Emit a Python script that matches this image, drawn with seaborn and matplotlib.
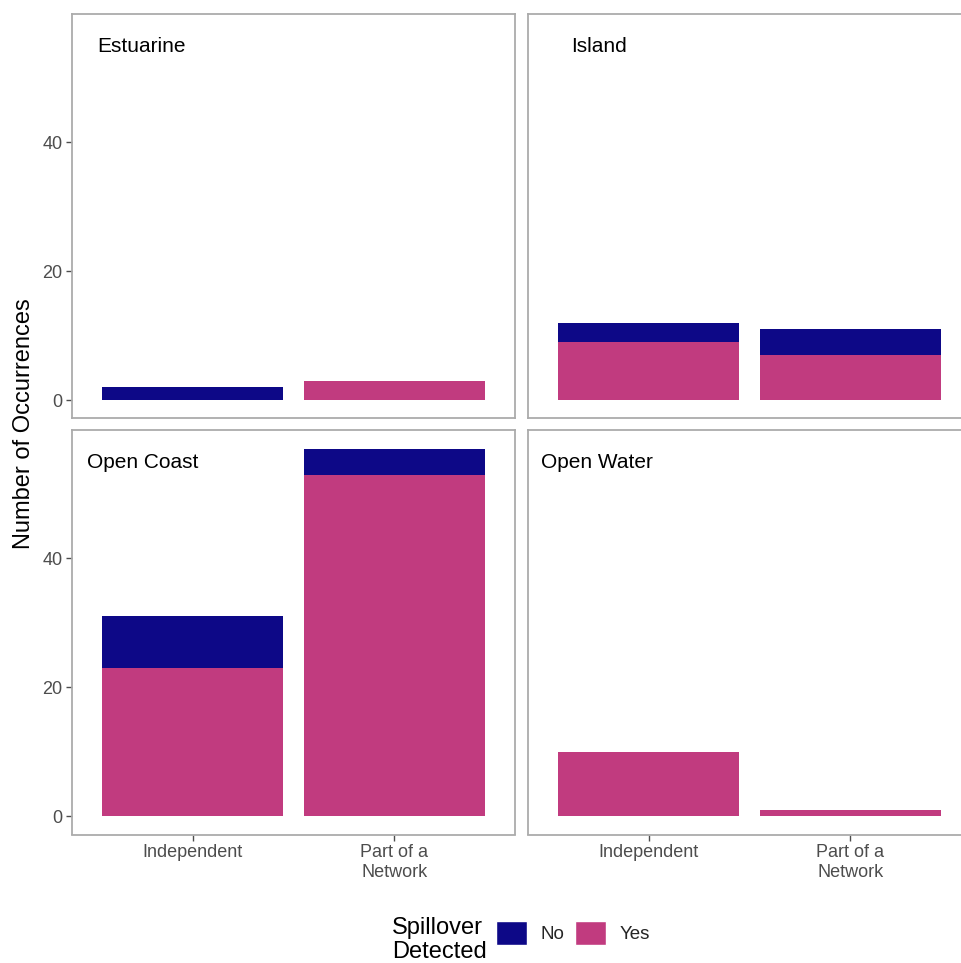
import numpy as np
import pandas as pd
import matplotlib
matplotlib.use("Agg")
import matplotlib.pyplot as plt
import seaborn as sns
from matplotlib.patches import Patch

# data
habitats = ["Estuarine", "Island", "Open Coast", "Open Water"]
network_types = ["Independent", "Part of a\nNetwork"]
yes_counts = [0, 3, 9, 7, 23, 53, 10, 1]
no_counts = [2, 0, 3, 4, 8, 4, 0, 0]
y_ticks = [0, 20, 40]

NAVY = "#0D0887"
PINK = "#C13B7F"
BORDER = "#ABABAB"
TICK_GREY = "#4D4D4D"

sns.set_theme(style="white")
plt.rcParams["font.family"] = ["Liberation Sans", "DejaVu Sans"]

df = pd.DataFrame({
    "habitat": np.repeat(habitats, len(network_types)),
    "network": network_types * len(habitats),
    "yes": yes_counts,
    "no": no_counts,
})
df["total"] = df["yes"] + df["no"]

W, H = 961, 963
fig = plt.figure(figsize=(W / 100, H / 100), dpi=100)

# panel boxes in pixels
panel_w, panel_h = 443, 404
lefts = [72, 528]
tops = [14.5, 430.5]
label_x = {"Estuarine": 0.056, "Island": 0.097, "Open Coast": 0.034, "Open Water": 0.029}

for i, hab in enumerate(habitats):
    row, col = divmod(i, 2)
    l, t = lefts[col], tops[row]
    ax = fig.add_axes([l / W, 1 - (t + panel_h) / H, panel_w / W, panel_h / H])
    sub = df[df["habitat"] == hab]
    # stacked look: total bar (No on top) then the Yes part over it
    sns.barplot(data=sub, x="network", y="total", order=network_types, color=NAVY,
                saturation=1, width=0.9, linewidth=0, errorbar=None, ax=ax)
    sns.barplot(data=sub, x="network", y="yes", order=network_types, color=PINK,
                saturation=1, width=0.9, linewidth=0, errorbar=None, ax=ax)
    ax.set_xlim(-0.6, 1.6)
    ax.set_ylim(-2.85, 59.85)
    ax.set_xlabel("")
    ax.set_ylabel("")
    ax.grid(False)
    for s in ax.spines.values():
        s.set_color(BORDER)
        s.set_linewidth(1.3)
    ax.text(label_x[hab], 0.92, hab, transform=ax.transAxes, fontsize=15,
            ha="left", va="center", color="black")
    ax.set_yticks(y_ticks)
    ax.tick_params(axis="both", which="both", direction="out", length=4, width=1,
                   color=TICK_GREY, labelcolor=TICK_GREY, labelsize=13, pad=3)
    if col == 0:
        ax.tick_params(axis="y", left=True, labelleft=True)
    else:
        ax.tick_params(axis="y", left=False, labelleft=False)
    if row == 1:
        ax.tick_params(axis="x", bottom=True, labelbottom=True)
        ax.set_xticks(range(len(network_types)))
        ax.set_xticklabels(network_types, linespacing=1.2)
    else:
        ax.tick_params(axis="x", bottom=False, labelbottom=False)

fig.text(24 / W, 1 - 424 / H, "Number of Occurrences", rotation=90, fontsize=17,
         ha="center", va="center", color="black")

# legend
fig.text(392 / W, 1 - 940 / H, "Spillover\nDetected", fontsize=17, ha="left",
         va="center", linespacing=1.07, color="black")
handles = [Patch(facecolor=NAVY, label="No"), Patch(facecolor=PINK, label="Yes")]
fig.legend(handles=handles, loc="center left", bbox_to_anchor=(481 / W, 1 - 933 / H),
           ncol=2, frameon=False, fontsize=13.5, handlelength=1.65, handleheight=1.65,
           handletextpad=0.7, columnspacing=0.6, borderpad=0.3)

fig.savefig("out.png", dpi=100, facecolor="white")
